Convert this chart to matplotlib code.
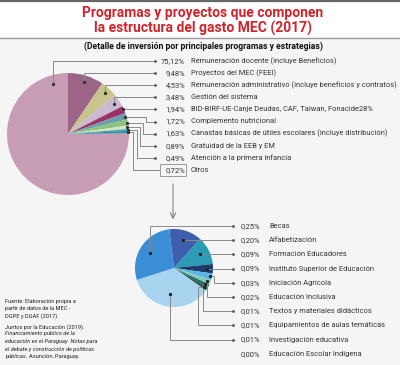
import matplotlib
matplotlib.use("Agg")
import matplotlib.pyplot as plt
from matplotlib.patches import Rectangle
import numpy as np

# main pie: rows as listed in the legend
big_labels = ["Remuneración docente (incluye Beneficios)",
              "Proyectos del MEC (FEEI)",
              "Remuneración administrativo (incluye beneficios y contratos)",
              "Gestión del sistema",
              "BID-BIRF-UE-Canje Deudas, CAF, Taiwan, Fonacide28%",
              "Complemento nutricional",
              "Canastas básicas de útiles escolares (incluye distribución)",
              "Gratuidad de la EEB y EM",
              "Atención a la primera infancia",
              "Otros"]
big_values = [75.12, 9.48, 4.53, 3.48, 1.94, 1.72, 1.63, 0.89, 0.49, 0.72]

# detail of "Otros"
small_labels = ["Becas", "Alfabetización", "Formación Educadores",
                "Instituto Superior de Educación", "Iniciación Agrícola",
                "Educación Inclusiva", "Textos y materiales didácticos",
                "Equipamientos de aulas temáticas", "Investigación educativa",
                "Educación Escolar Indígena"]
small_values = [0.25, 0.20, 0.09, 0.09, 0.03, 0.02, 0.01, 0.01, 0.01, 0.00]
# slice sizes as drawn in the original graphic (share of the small pie, %)
small_shares = [28.0, 13.6, 11.7, 3.9, 2.8, 1.9, 1.4, 1.4, 35.3, 0.0]

fuente = ["Fuente: Elaboración propia a",
          "partir de datos de la MEC -",
          "DGPE y DGAF (2017)."]

big_colors = ["#c79db6", "#9c6587", "#c9c48b", "#c9bad2", "#9e3069",
              "#6aa0ae", "#8fc27a", "#d5e8bd", "#4fa0b2", "#2b8aa3"]
small_colors = ["#3b8ed5", "#3d5fae", "#2b9cb4", "#1d3c6e", "#5db6e8",
                "#84cdb2", "#1f6b6b", "#2a5a50", "#a8d4f0", "#a8d4f0"]

FONT = ["Roboto", "DejaVu Sans"]
LINE = "#8a8a8a"
TXT = "#333333"
FS = 5.45
NOTE_FS = 4.1

def pct(v):
    return ("%.2f" % v).replace(".", ",") + "%"

fig = plt.figure(figsize=(4.0, 3.65), dpi=100)
ax = fig.add_axes([0, 0, 1, 1])

# backgrounds
ax.add_patch(Rectangle((0, 38), 400, 330, color="#f5f5f5", zorder=0))
ax.plot([0, 400], [38, 38], color="#9a9a9a", lw=1.0, zorder=1)
ax.plot([0, 400], [0.8, 0.8], color="#666666", lw=1.6, zorder=1)

# titles
ax.text(203, 12.5, "Programas y proyectos que componen", ha="center", va="center",
        fontsize=10.0, fontweight="bold", color="#d2232a", family=FONT)
ax.text(203, 28.5, "la estructura del gasto MEC (2017)", ha="center", va="center",
        fontsize=10.0, fontweight="bold", color="#d2232a", family=FONT)
ax.text(203, 46.5, "(Detalle de inversión por principales programas y estrategias)",
        ha="center", va="center", fontsize=6.2, fontweight="bold", color="#111111",
        family=FONT)

# ---- big pie ----
c1, r1 = (68, 134), 61
order = list(range(1, 10)) + [0]
wedges, _ = ax.pie([big_values[i] for i in order],
                   colors=[big_colors[i] for i in order],
                   center=c1, radius=r1, startangle=-90, counterclock=True,
                   wedgeprops=dict(linewidth=0))
row_y = [61 + 12.1 * i for i in range(10)]
elbows = {5: 146, 6: 143, 7: 140, 8: 137, 9: 133}
for k, i in enumerate(order):
    w = wedges[k]
    if i == 0:
        ang = w.theta2 - 17
        rf = 0.85
    else:
        ang = (w.theta1 + w.theta2) / 2
        rf = 0.9 if (w.theta2 - w.theta1) > 10 else 0.98
    ax_ = c1[0] + rf * r1 * np.cos(np.radians(ang))
    ay_ = c1[1] + rf * r1 * np.sin(np.radians(ang))
    y = row_y[i]
    end = 160 if i == 9 else 155
    if i in elbows:
        xs = [ax_, elbows[i], elbows[i], end]
        ys = [ay_, ay_, y, y]
    elif i == 4:
        xs = [ax_, end]
        ys = [y, y]
        ay_ = y
    else:
        xs = [ax_, ax_, end]
        ys = [ay_, y, y]
    ax.plot(xs, ys, color=LINE, lw=0.7, zorder=3)
    ax.plot([ax_], [ay_], "s", color="#333333", ms=1.2, zorder=4)
    if i != 9:
        ax.plot([155], [y], "o", color="#555555", ms=1.0, zorder=4)
    ax.text(185, y, pct(big_values[i]), ha="right", va="center",
            fontsize=FS, color=TXT, family=FONT)
    ax.text(191, y, big_labels[i], ha="left", va="center",
            fontsize=FS, color=TXT, family=FONT)

# box around "Otros" and arrow to the detail pie
ax.add_patch(Rectangle((160, row_y[9] - 6), 26, 12, fill=False,
                       edgecolor="#9a9a9a", lw=0.7, zorder=3))
ax.annotate("", xy=(173, 222), xytext=(173, 181),
            arrowprops=dict(arrowstyle="->", color="#777777", lw=0.7))

# ---- detail pie ----
c2, r2 = (174, 268), 39
sorder = list(range(1, 9)) + [0]
swedges, _ = ax.pie([small_shares[i] for i in sorder],
                    colors=[small_colors[i] for i in sorder],
                    center=c2, radius=r2, startangle=-97, counterclock=True,
                    wedgeprops=dict(linewidth=0))
srow_y = [226 + 14.2 * i for i in range(10)]
selbows = {4: 214, 5: 207, 6: 203, 7: 198}
srf = {0: 0.72, 1: 0.75, 2: 0.75, 3: 0.85, 4: 0.95, 5: 0.9, 6: 0.9, 7: 0.9, 8: 0.68}
for k, i in enumerate(sorder):
    w = swedges[k]
    ang = (w.theta1 + w.theta2) / 2
    ax_ = c2[0] + srf[i] * r2 * np.cos(np.radians(ang))
    ay_ = c2[1] + srf[i] * r2 * np.sin(np.radians(ang))
    y = srow_y[i]
    if i in selbows:
        xs = [ax_, selbows[i], selbows[i], 233]
        ys = [ay_, ay_, y, y]
    elif i in (1, 2, 3):
        xs = [ax_, 233]
        ys = [y, y]
        ay_ = y
    else:
        xs = [ax_, ax_, 233]
        ys = [ay_, y, y]
    ax.plot(xs, ys, color=LINE, lw=0.7, zorder=3)
    ax.plot([ax_], [ay_], "s", color="#222222", ms=1.2, zorder=4)
    ax.plot([233], [y], "o", color="#555555", ms=1.0, zorder=4)
for i in range(10):
    ax.text(260, srow_y[i], pct(small_values[i]), ha="right", va="center",
            fontsize=FS, color=TXT, family=FONT)
    ax.text(269, srow_y[i], small_labels[i], ha="left", va="center",
            fontsize=FS, color=TXT, family=FONT)

# ---- source note ----
fy = [301, 308.5, 316]
for t, y in zip(fuente, fy):
    ax.text(5, y, t, ha="left", va="center", fontsize=NOTE_FS, color="#222222",
            family=FONT)
ax.text(5, 327, "Juntos por la Educación (2019).", ha="left", va="center",
        fontsize=NOTE_FS, color="#222222", family=FONT)
ital = ["Financiamiento público de la",
        "educación en el Paraguay. Notas para",
        "el debate y construcción de políticas"]
for t, y in zip(ital, [334, 341.5, 349]):
    ax.text(5, y, t, ha="left", va="center", fontsize=NOTE_FS, color="#222222",
            family=FONT, style="italic")
t1 = ax.text(5, 356.5, "públicas.", ha="left", va="center", fontsize=NOTE_FS,
             color="#222222", family=FONT, style="italic")

ax.set_xlim(0, 400)
ax.set_ylim(365, 0)
ax.set_aspect("auto")
ax.axis("off")

fig.canvas.draw()
bb = t1.get_window_extent(renderer=fig.canvas.get_renderer())
x_end = ax.transData.inverted().transform((bb.x1, bb.y0))[0]
ax.text(x_end + 1.5, 356.5, "Asunción, Paraguay.", ha="left", va="center",
        fontsize=NOTE_FS, color="#222222", family=FONT)

fig.savefig("out.png", dpi=100, facecolor="white")
